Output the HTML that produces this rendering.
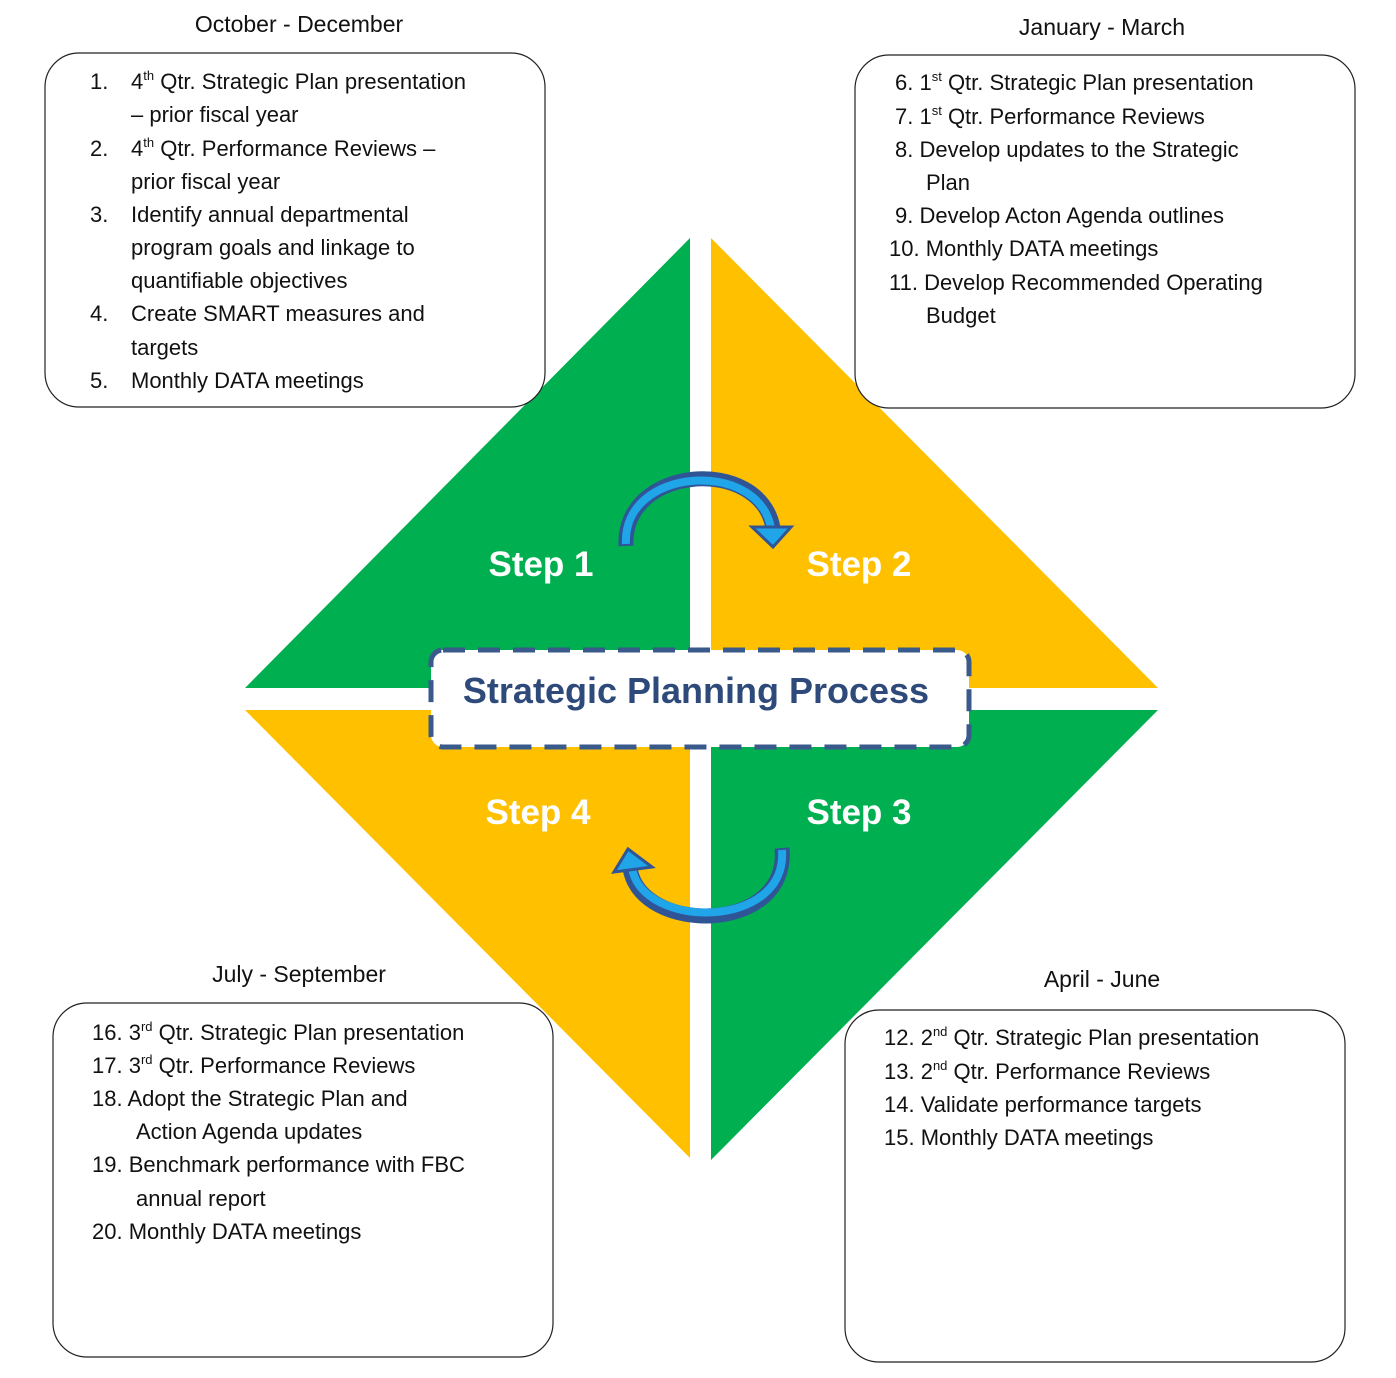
<!DOCTYPE html>
<html><head><meta charset="utf-8"><style>
html,body{margin:0;padding:0;background:#fff;}
svg{display:block;}
text{font-family:"Liberation Sans",sans-serif;}
.t{font-size:22px;fill:#111;}
.h{font-size:23px;fill:#111;}
.s{font-size:13px;}
.step{font-size:35px;font-weight:bold;fill:#fff;}
</style></head><body>
<svg width="1396" height="1378" viewBox="0 0 1396 1378" xmlns="http://www.w3.org/2000/svg">
<rect width="1396" height="1378" fill="#fff"/>
<!-- triangles -->
<polygon points="690,238 690,688 245,688" fill="#00b050"/>
<polygon points="711,238 711,688 1158,688" fill="#ffc000"/>
<polygon points="245,710 690,710 690,1158" fill="#ffc000"/>
<polygon points="711,710 1158,710 711,1160" fill="#00b050"/>

<!-- boxes -->
<rect x="45" y="53" width="500" height="354" rx="34" fill="#fff" stroke="#222" stroke-width="1.2"/>
<rect x="855" y="55" width="500" height="353" rx="34" fill="#fff" stroke="#222" stroke-width="1.2"/>
<rect x="53" y="1003" width="500" height="354" rx="34" fill="#fff" stroke="#222" stroke-width="1.2"/>
<rect x="845" y="1010" width="500" height="352" rx="34" fill="#fff" stroke="#222" stroke-width="1.2"/>

<!-- headings -->
<text class="h" x="299" y="32" text-anchor="middle">October - December</text>
<text class="h" x="1102" y="35" text-anchor="middle">January - March</text>
<text class="h" x="299" y="982" text-anchor="middle">July - September</text>
<text class="h" x="1102" y="987" text-anchor="middle">April - June</text>

<!-- TL -->
<text class="t" x="90" y="89">1.</text><text class="t" x="131" y="89">4<tspan class="s" dy="-9">th</tspan><tspan dy="9"> Qtr. Strategic Plan presentation</tspan></text>
<text class="t" x="131" y="122">– prior fiscal year</text>
<text class="t" x="90" y="156">2.</text><text class="t" x="131" y="156">4<tspan class="s" dy="-9">th</tspan><tspan dy="9"> Qtr. Performance Reviews –</tspan></text>
<text class="t" x="131" y="189">prior fiscal year</text>
<text class="t" x="90" y="222">3.</text><text class="t" x="131" y="222">Identify annual departmental</text>
<text class="t" x="131" y="255">program goals and linkage to</text>
<text class="t" x="131" y="288">quantifiable objectives</text>
<text class="t" x="90" y="321">4.</text><text class="t" x="131" y="321">Create SMART measures and</text>
<text class="t" x="131" y="355">targets</text>
<text class="t" x="90" y="388">5.</text><text class="t" x="131" y="388">Monthly DATA meetings</text>

<!-- TR -->
<text class="t" x="895" y="90">6. 1<tspan class="s" dy="-9">st</tspan><tspan dy="9"> Qtr. Strategic Plan presentation</tspan></text>
<text class="t" x="895" y="124">7. 1<tspan class="s" dy="-9">st</tspan><tspan dy="9"> Qtr. Performance Reviews</tspan></text>
<text class="t" x="895" y="157">8. Develop updates to the Strategic</text>
<text class="t" x="926" y="190">Plan</text>
<text class="t" x="895" y="223">9. Develop Acton Agenda outlines</text>
<text class="t" x="889" y="256">10. Monthly DATA meetings</text>
<text class="t" x="889" y="290">11. Develop Recommended Operating</text>
<text class="t" x="926" y="323">Budget</text>

<!-- BL -->
<text class="t" x="92" y="1040">16. 3<tspan class="s" dy="-9">rd</tspan><tspan dy="9"> Qtr. Strategic Plan presentation</tspan></text>
<text class="t" x="92" y="1073">17. 3<tspan class="s" dy="-9">rd</tspan><tspan dy="9"> Qtr. Performance Reviews</tspan></text>
<text class="t" x="92" y="1106">18. Adopt the Strategic Plan and</text>
<text class="t" x="136" y="1139">Action Agenda updates</text>
<text class="t" x="92" y="1172">19. Benchmark performance with FBC</text>
<text class="t" x="136" y="1206">annual report</text>
<text class="t" x="92" y="1239">20. Monthly DATA meetings</text>

<!-- BR -->
<text class="t" x="884" y="1045">12. 2<tspan class="s" dy="-9">nd</tspan><tspan dy="9"> Qtr. Strategic Plan presentation</tspan></text>
<text class="t" x="884" y="1079">13. 2<tspan class="s" dy="-9">nd</tspan><tspan dy="9"> Qtr. Performance Reviews</tspan></text>
<text class="t" x="884" y="1112">14. Validate performance targets</text>
<text class="t" x="884" y="1145">15. Monthly DATA meetings</text>

<!-- steps -->
<text class="step" x="541" y="576" text-anchor="middle">Step 1</text>
<text class="step" x="859" y="576" text-anchor="middle">Step 2</text>
<text class="step" x="538" y="824" text-anchor="middle">Step 4</text>
<text class="step" x="859" y="824" text-anchor="middle">Step 3</text>

<!-- arrows -->
<path d="M626,546 C622,465 760,455 773,528" fill="none" stroke="#2f5597" stroke-width="15"/>
<path d="M626,544 C622,467 758,458 771,528" fill="none" stroke="#1fa5e8" stroke-width="8"/>
<polygon points="752,527 791,527 773,547" fill="#1fa5e8" stroke="#2f5597" stroke-width="3"/>

<path d="M782,848 C790,935 640,935 630,868" fill="none" stroke="#2f5597" stroke-width="15"/>
<path d="M782,850 C788,930 642,930 632,868" fill="none" stroke="#1fa5e8" stroke-width="8"/>
<polygon points="614,872 652,867 628,849" fill="#1fa5e8" stroke="#2f5597" stroke-width="3"/>

<!-- center box -->
<rect x="431" y="650" width="538" height="97" rx="12" fill="#fff" stroke="#3a5a8c" stroke-width="5" stroke-dasharray="22,13"/>
<text x="696" y="703" text-anchor="middle" style="font-size:36px;font-weight:bold;fill:#2e4a7a;">Strategic Planning Process</text>
</svg>
</body></html>
